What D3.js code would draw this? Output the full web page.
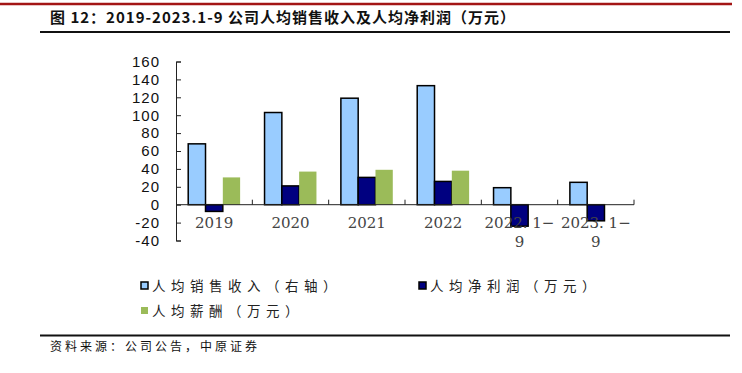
<!DOCTYPE html>
<html>
<head>
<meta charset="utf-8">
<script src="https://cdn.jsdelivr.net/npm/d3@7"></script>
<style>
  body { margin: 0; background: #fff; }
</style>
</head>
<body>
<script>
const categories = ['2019', '2020', '2021', '2022', '2022.1-9', '2023.1-9'];
const revenuePerHead = [68, 103, 119, 133, 19, 25];
const profitPerHead = [-7.5, 21, 30.5, 26, -24, -18];
const salaryPerHead = [30.5, 37, 39, 38, null, null];
const yTicks = [-40, -20, 0, 20, 40, 60, 80, 100, 120, 140, 160];

const series = [
    { key: 'rev', name: '人均销售收入（右轴）', values: revenuePerHead, color: '#99CCFF', stroke: '#000' },
    { key: 'profit', name: '人均净利润（万元）', values: profitPerHead, color: '#000080', stroke: '#000' },
    { key: 'salary', name: '人均薪酬（万元）', values: salaryPerHead, color: '#9BBB59', stroke: 'none' }
];

const width = 742, height = 373;
const margin = { left: 176, right: 108, top: 61.5, bottom: 132.5 };

const svg = d3.create('svg')
    .attr('width', width)
    .attr('height', height);

// frame lines
svg.append('line')
    .attr('x1', 0).attr('x2', 732).attr('y1', 4).attr('y2', 4)
    .attr('stroke', '#A31515').attr('stroke-width', 2.5);
svg.append('line')
    .attr('x1', 40).attr('x2', 730).attr('y1', 32).attr('y2', 32)
    .attr('stroke', '#111').attr('stroke-width', 2);
svg.append('line')
    .attr('x1', 40).attr('x2', 730).attr('y1', 335.5).attr('y2', 335.5)
    .attr('stroke', '#111').attr('stroke-width', 2);

svg.append('text')
    .attr('x', 50).attr('y', 23)
    .attr('font-family', '"Noto Sans CJK SC", sans-serif')
    .attr('font-weight', 'bold')
    .attr('font-size', 15)
    .attr('letter-spacing', 1)
    .attr('fill', '#111')
    .text('图 12：2019-2023.1-9 公司人均销售收入及人均净利润（万元）');

svg.append('text')
    .attr('x', 50).attr('y', 351)
    .attr('font-family', '"Noto Sans CJK SC", sans-serif')
    .attr('font-size', 12)
    .attr('letter-spacing', 3)
    .attr('fill', '#111')
    .text('资料来源：公司公告，中原证券');

const x0 = d3.scaleBand()
    .domain(categories)
    .range([margin.left, width - margin.right])
    .paddingInner(0.32)
    .paddingOuter(0.16);

const x1 = d3.scaleBand()
    .domain(series.map(s => s.key))
    .range([0, x0.bandwidth()]);

const y = d3.scaleLinear()
    .domain([-40, 160])
    .range([height - margin.bottom, margin.top]);

// bars
series.forEach(s => {
    svg.append('g')
        .selectAll('rect')
        .data(categories.map((c, i) => ({ cat: c, value: s.values[i] })).filter(d => d.value != null))
        .join('rect')
        .attr('x', d => x0(d.cat) + x1(s.key))
        .attr('y', d => y(Math.max(0, d.value)))
        .attr('width', x1.bandwidth())
        .attr('height', d => Math.abs(y(d.value) - y(0)))
        .attr('fill', s.color)
        .attr('stroke', s.stroke)
        .attr('stroke-width', 1.5);
});

// y axis
const yAxis = svg.append('g')
    .attr('transform', `translate(${margin.left},0)`)
    .call(d3.axisLeft(y).tickValues(yTicks).tickFormat(d => String(d)).tickSize(-5).tickPadding(16));
yAxis.select('.domain').attr('stroke', '#222');
yAxis.selectAll('.tick line').attr('stroke', '#222');
yAxis.selectAll('.tick text')
    .attr('font-family', '"Liberation Sans", Arial, sans-serif')
    .attr('font-size', 15)
    .attr('letter-spacing', 1)
    .attr('fill', '#111');

// x axis along zero
const step = x0.step();
const xAxis = svg.append('g');
xAxis.append('line')
    .attr('x1', margin.left).attr('x2', width - margin.right)
    .attr('y1', y(0)).attr('y2', y(0))
    .attr('stroke', '#222');
xAxis.selectAll('line.tk')
    .data(categories.slice(1).concat(['end']))
    .join('line')
    .attr('class', 'tk')
    .attr('x1', (d, i) => margin.left + step * (i + 1))
    .attr('x2', (d, i) => margin.left + step * (i + 1))
    .attr('y1', y(0)).attr('y2', y(0) - 5)
    .attr('stroke', '#222');

const labelLines = d => d.includes('-9') && d.includes('.')
    ? [d.replace('.', '. ').replace('-9', '−'), '9']
    : [d];

xAxis.selectAll('text')
    .data(categories)
    .join('text')
    .attr('x', d => x0(d) + x0.bandwidth() / 2)
    .attr('y', 228)
    .attr('text-anchor', 'middle')
    .attr('font-family', '"DejaVu Serif", serif')
    .attr('font-size', 15)
    .attr('fill', '#444')
    .selectAll('tspan')
    .data(d => labelLines(d))
    .join('tspan')
    .attr('x', function() { return this.parentNode.getAttribute('x'); })
    .attr('dy', (d, i) => i === 0 ? 0 : 19)
    .text(d => d);

// legend
const legendPos = [
    { x: 141, y: 286 },
    { x: 419, y: 286 },
    { x: 141, y: 311 }
];
const legend = svg.append('g')
    .selectAll('g')
    .data(series)
    .join('g')
    .attr('transform', (d, i) => `translate(${legendPos[i].x},${legendPos[i].y})`);
legend.append('rect')
    .attr('x', 0).attr('y', -4)
    .attr('width', 7).attr('height', 7)
    .attr('fill', d => d.color)
    .attr('stroke', d => d.stroke)
    .attr('stroke-width', 1.5);
legend.append('text')
    .attr('x', 11).attr('y', 5)
    .attr('font-family', '"Noto Sans CJK SC", sans-serif')
    .attr('font-size', 13.5)
    .attr('letter-spacing', 5.5)
    .attr('fill', '#222')
    .text(d => d.name);

document.querySelector('body').appendChild(svg.node());
</script>
</body>
</html>
